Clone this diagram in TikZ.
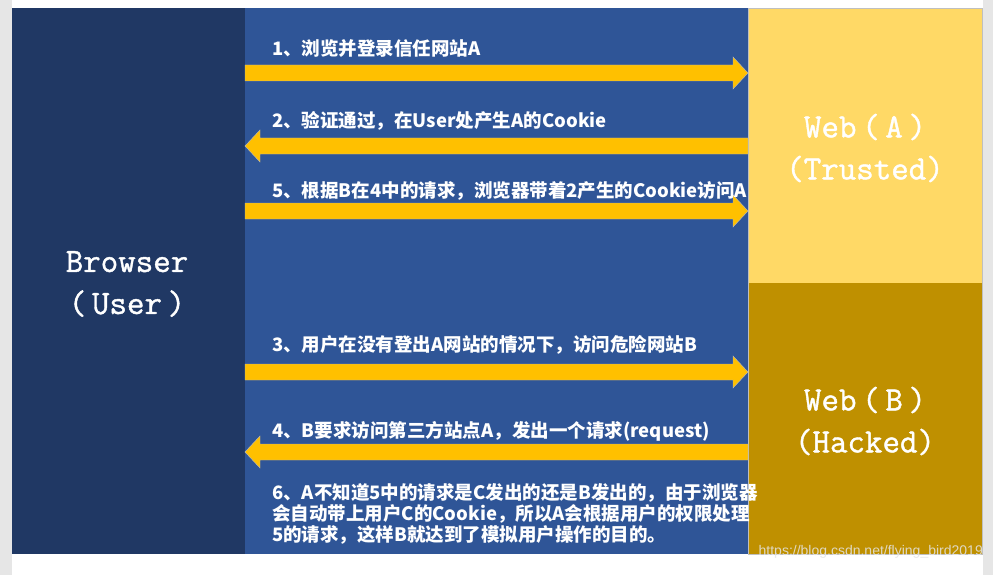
\documentclass[tikz,border=0pt]{standalone}
\usepackage{fontspec}
\newfontfamily\cjk{Noto Sans CJK SC}
\newfontfamily\wmfont{Liberation Sans}
\newfontfamily\bigfont{Latin Modern Mono}[FakeBold=1.2]
\usetikzlibrary{calc}
\definecolor{navy}{HTML}{203864}
\definecolor{midblue}{HTML}{2F5597}
\definecolor{webA}{HTML}{FFD966}
\definecolor{webB}{HTML}{BF9000}
\definecolor{arrowc}{HTML}{FFC000}
\definecolor{sidegray}{HTML}{E6E6E6}
\tikzset{
  panel/.style={inner sep=0pt, outer sep=0pt, draw=none},
  bigtxt/.style={text=white, font=\bigfont\fontsize{34}{42}\selectfont, align=center},
  steptxt/.style={text=white, font=\cjk\bfseries\fontsize{18.5}{21}\selectfont, anchor=west, inner sep=0pt, align=left},
  arr/.style={fill=arrowc, draw=gray!55, line width=0.4pt},
}
\newcommand\rarr[2]{\filldraw[arr] ($(#1)+(0,8)$) -- ($(#2)+(-15,8)$) -- ($(#2)+(-15,16)$) -- (#2) -- ($(#2)+(-15,-16)$) -- ($(#2)+(-15,-8)$) -- ($(#1)+(0,-8)$) -- cycle;}
\newcommand\larr[2]{\filldraw[arr] ($(#1)+(0,8)$) -- ($(#2)+(15,8)$) -- ($(#2)+(15,16)$) -- (#2) -- ($(#2)+(15,-16)$) -- ($(#2)+(15,-8)$) -- ($(#1)+(0,-8)$) -- cycle;}
\begin{document}
\begin{tikzpicture}[x=1pt,y=-1pt]
\useasboundingbox (0,0) rectangle (993,575);
\fill[white] (0,0) rectangle (993,575);
\fill[sidegray] (0,0) rectangle (12,575);
\fill[sidegray] (983,0) rectangle (993,575);
% panels
\node[panel, fill=navy, minimum width=233pt, minimum height=546pt, anchor=north west] (browser) at (12,8) {};
\node[panel, fill=midblue, minimum width=503pt, minimum height=546pt, anchor=north west] (mid) at (245,8) {};
\node[panel, fill=webA, minimum width=234pt, minimum height=275pt, anchor=north west] (wa) at (748,8) {};
\node[panel, fill=webB, minimum width=234pt, minimum height=271pt, anchor=north west] (wb) at (748,283) {};
\draw[gray!50, line width=0.5pt] (wa.north west) rectangle (wb.south east);
% big labels
\node[bigtxt] (lbrowser) at (127,284) {Browser\\(\,User\,)};
\node[bigtxt] (lwa) at (865,148) {Web\,(\,A\,)\\(Trusted)};
\node[bigtxt] (lwb) at (865,421) {Web\,(\,B\,)\\(Hacked)};
% arrow end points
\coordinate (s1) at (browser.east |- 0,73);  \coordinate (e1) at (wa.west |- 0,73);
\coordinate (s2) at (wa.west |- 0,146);      \coordinate (e2) at (browser.east |- 0,146);
\coordinate (s5) at (browser.east |- 0,211); \coordinate (e5) at (wa.west |- 0,211);
\coordinate (s3) at (browser.east |- 0,372); \coordinate (e3) at (wb.west |- 0,372);
\coordinate (s4) at (wb.west |- 0,452);      \coordinate (e4) at (browser.east |- 0,452);
\rarr{s1}{e1}
\larr{s2}{e2}
\rarr{s5}{e5}
\rarr{s3}{e3}
\larr{s4}{e4}
% step texts
\node[steptxt] (t1) at (272,48) {1、浏览并登录信任网站A};
\node[steptxt] (t2) at (272,121) {2、验证通过，在User处产生A的Cookie};
\node[steptxt] (t5) at (272,191) {5、根据B在4中的请求，浏览器带着2产生的Cookie访问A};
\node[steptxt] (t3) at (272,345) {3、用户在没有登出A网站的情况下，访问危险网站B};
\node[steptxt] (t4) at (272,431) {4、B要求访问第三方站点A，发出一个请求(request)};
\node[steptxt] (t6) at (272,514) {6、A不知道5中的请求是C发出的还是B发出的，由于浏览器\\会自动带上用户C的Cookie，所以A会根据用户的权限处理\\5的请求，这样B就达到了模拟用户操作的目的。};
% watermark
\node[anchor=east, inner sep=0pt, text=white!80!gray, opacity=0.85, font=\wmfont\fontsize{14}{16}\selectfont] (wm) at (983,552) {https://blog.csdn.net/flying\_bird2019};
\end{tikzpicture}
\end{document}
